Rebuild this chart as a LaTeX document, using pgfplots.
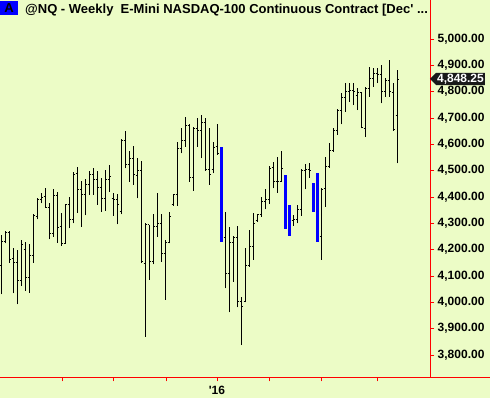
\documentclass[border=0pt]{standalone}
\usepackage{fontspec}
\setmainfont{Liberation Sans}
\usepackage{pgfplots}
\pgfplotsset{compat=1.18}
\usepackage{pgfplotstable}
\usetikzlibrary{shapes.symbols}
\definecolor{bgc}{RGB}{236,252,198}
\definecolor{axred}{RGB}{255,0,0}
\definecolor{barblue}{RGB}{0,0,255}

\pgfdeclareplotmark{otick}{\pgfpathmoveto{\pgfqpoint{-1.8pt}{0pt}}\pgfpathlineto{\pgfqpoint{0pt}{0pt}}\pgfusepathqstroke}
\pgfdeclareplotmark{ctick}{\pgfpathmoveto{\pgfqpoint{0pt}{0pt}}\pgfpathlineto{\pgfqpoint{1.8pt}{0pt}}\pgfusepathqstroke}

\pgfplotstableread{
i O H L C
1 4139 4256 4030 4233
2 4233 4271 4224 4265
3 4265 4271 4151 4163
4 4167 4206 4034 4152
5 4152 4199 3992 4082
6 4082 4237 4062 4218
7 4201 4230 4044 4094
8 4094 4222 4037 4179
9 4179 4336 4151 4329
10 4325 4398 4315 4391
11 4392 4414 4376 4399
12 4401 4436 4363 4361
13 4361 4376 4239 4262
14 4262 4430 4250 4405
15 4405 4420 4227 4284
16 4287 4341 4214 4222
17 4222 4374 4222 4372
18 4370 4399 4281 4315
19 4315 4496 4300 4487
20 4490 4515 4341 4427
21 4427 4461 4287 4410
22 4410 4467 4330 4446
23 4448 4499 4408 4487
24 4487 4509 4408 4468
25 4468 4499 4370 4437
26 4437 4474 4344 4395
27 4395 4503 4348 4465
28 4465 4522 4420 4477
29 4395 4414 4328 4392
30 4392 4410 4296 4373
31 4347 4620 4334 4616
32 4616 4651 4509 4525
33 4525 4575 4458 4547
34 4547 4594 4446 4484
35 4481 4549 4395 4499
36 4499 4537 4151 4154
37 4148 4303 3870 4294
38 4294 4294 4085 4154
39 4154 4336 4144 4290
40 4290 4414 4250 4298
41 4298 4336 4154 4186
42 4184 4237 4009 4227
43 4227 4344 4224 4328
44 4370 4410 4366 4408
45 4408 4610 4366 4585
46 4585 4661 4566 4616
47 4616 4705 4591 4673
48 4673 4677 4458 4475
49 4475 4665 4424 4661
50 4661 4699 4591 4654
51 4654 4711 4547 4682
52 4682 4699 4500 4505
53 4505 4661 4446 4484
54 4503 4610 4490 4587
55 4591 4677 4560 4566
57 4247 4342 4053 4110
58 4110 4287 3962 4227
59 4227 4252 4079 4246
60 4246 4290 3981 4003
61 4003 4022 3838 3986
62 4002 4208 4000 4139
63 4139 4275 4135 4211
64 4211 4338 4161 4300
65 4310 4336 4306 4332
66 4332 4401 4325 4385
67 4385 4429 4353 4389
68 4389 4518 4373 4509
69 4511 4534 4433 4458
70 4458 4553 4416 4458
71 4458 4575 4458 4509
74 4310 4332 4290 4315
75 4313 4370 4300 4353
76 4353 4505 4328 4500
77 4500 4525 4429 4503
78 4503 4530 4473 4500
81 4249 4433 4161 4430
82 4433 4553 4363 4515
83 4515 4604 4511 4575
84 4575 4661 4572 4654
85 4654 4733 4636 4730
86 4730 4794 4676 4778
87 4778 4832 4724 4800
88 4800 4832 4762 4803
89 4803 4834 4749 4800
90 4784 4813 4730 4796
91 4796 4800 4661 4663
92 4661 4819 4627 4813
93 4813 4895 4781 4851
94 4851 4889 4819 4870
95 4870 4889 4832 4866
96 4866 4901 4756 4800
97 4800 4851 4781 4844
98 4844 4920 4781 4800
99 4798 4832 4652 4657
100 4711 4882 4528 4848.25
}\bars

\pgfplotstableread{
i H L
56 4591 4230
72 4484 4280
73 4370 4253
79 4452 4344
80 4490 4230
}\bluebars

\begin{document}
\begin{tikzpicture}
\useasboundingbox (0,0) rectangle (490pt,398pt);
\fill[bgc] (0,0) rectangle (490pt,398pt);
\begin{axis}[
  at={(0pt,20pt)}, anchor=south west,
  scale only axis, width=430.7pt, height=378pt,
  xmin=0.6675, xmax=108.34, ymin=3712.8, ymax=5148.1,
  axis x line*=bottom, axis y line*=right,
  axis line style={axred, line width=1pt},
  tick style={axred, line width=0.8pt},
  tick align=outside, major tick length=3.5pt,
  xtick={16.2,28.9,42.2,54.9,67.9,80.9,94.9},
  xticklabels={,,,\textquotesingle16,,,},
  xticklabel style={yshift=-1pt},
  ytick={3800,3900,...,5000},
  /pgf/number format/assume math mode=true,
  yticklabel style={/pgf/number format/.cd, fixed, fixed zerofill, precision=2, 1000 sep={,}},
  ticklabel style={font=\bfseries\fontsize{12}{14}\selectfont, black},
]
\addplot[draw=none, mark=none, error bars/.cd, y dir=plus, y explicit, error mark=none,
  error bar style={draw=black, line width=1.1pt}]
  table[x=i, y=L, y error plus expr=\thisrow{H}-\thisrow{L}] {\bars};
\addplot[only marks, mark=otick, mark options={draw=black, line width=0.9pt}] table[x=i, y=O] {\bars};
\addplot[only marks, mark=ctick, mark options={draw=black, line width=0.9pt}] table[x=i, y=C] {\bars};
\addplot[draw=none, mark=none, error bars/.cd, y dir=plus, y explicit, error mark=none,
  error bar style={draw=barblue, line width=3.4pt}]
  table[x=i, y=L, y error plus expr=\thisrow{H}-\thisrow{L}] {\bluebars};
\coordinate (tag) at (axis cs:108.34,4848.25);
\end{axis}
\draw[axred, line width=1pt] (430pt,20pt) -- (490pt,20pt);
\fill[barblue] (0pt,383pt) rectangle (18pt,397pt);
\node[font=\bfseries\fontsize{13}{15}\selectfont, anchor=base] at (9pt,385pt) {A};
\node[font=\bfseries\fontsize{13}{15}\selectfont, anchor=base west, inner sep=0pt] at (25pt,384.5pt)
  {@NQ - Weekly\ \ E-Mini NASDAQ-100 Continuous Contract [Dec\textquotesingle\ ...};
\node[signal, signal to=west, fill=black!90, text=white, font=\bfseries\fontsize{12}{13}\selectfont,
  inner sep=1pt, anchor=west] at ([xshift=-1pt]tag) {4,848.25};
\end{tikzpicture}
\end{document}
